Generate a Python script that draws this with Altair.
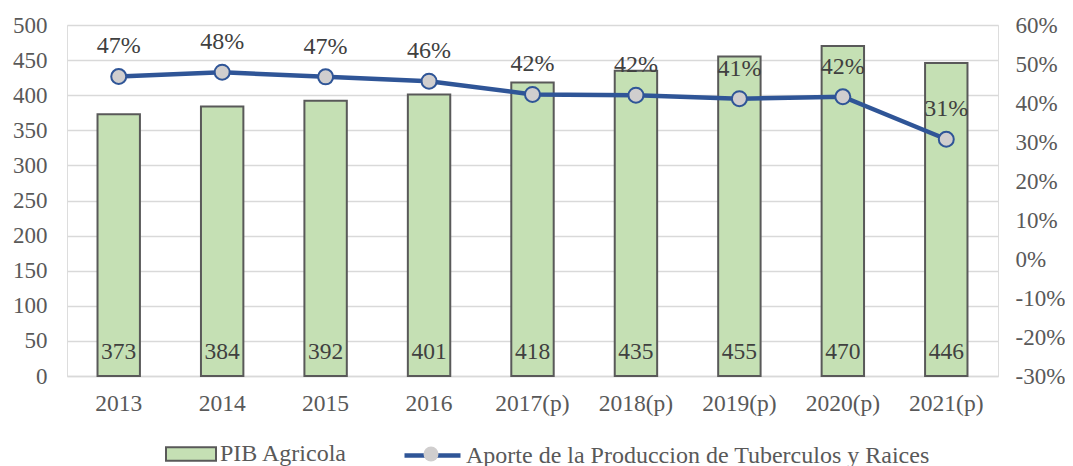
import altair as alt
import pandas as pd

years = ["2013", "2014", "2015", "2016", "2017(p)", "2018(p)", "2019(p)", "2020(p)", "2021(p)"]
pib = [373, 384, 392, 401, 418, 435, 455, 470, 446]
aporte = [0.468, 0.479, 0.467, 0.456, 0.422, 0.420, 0.411, 0.416, 0.307]
bar_name = "PIB Agricola"
line_name = "Aporte de la Produccion de Tuberculos y Raices"
left_ticks = list(range(0, 501, 50))
right_ticks = [round(i * 0.1, 1) for i in range(-3, 7)]

df = pd.DataFrame({"year": years, "pib": pib, "aporte": aporte,
                   "zero": 0, "s1": bar_name, "s2": line_name, "s3": "m"})

FONT = "Liberation Serif"
TXT = "#595959"
LBL = "#404040"
BLUE = "#2F5597"
GREEN = "#C5E0B4"
GREY = "#D0CECE"

base = alt.Chart(df)

x = alt.X("year:N", sort=years, title=None,
          scale=alt.Scale(paddingInner=0.59, paddingOuter=0.295),
          axis=alt.Axis(labelAngle=0, labelFontSize=23.5, labelColor=TXT, labelFont=FONT,
                        labelPadding=15, ticks=False, domain=True,
                        domainColor="#D9D9D9", domainWidth=1.5, grid=False))

bar_axis = alt.Axis(values=left_ticks, labelFontSize=23, labelColor=TXT, labelFont=FONT,
                    labelPadding=20, ticks=False, domain=False, labelOverlap=False,
                    grid=True, gridColor="#D9D9D9", gridWidth=1.5)
bar_scale = alt.Scale(domain=[0, 500])

bars = base.mark_bar(stroke="#595959", strokeWidth=2).encode(
    x=x, y=alt.Y("pib:Q", title=None, scale=bar_scale, axis=bar_axis),
    fill=alt.Fill("s1:N", scale=alt.Scale(domain=[bar_name], range=[GREEN]),
                  legend=alt.Legend(title=None, orient="none", legendX=98, legendY=403,
                                    padding=0,
                                    symbolType="M-1,-0.27H1V0.27H-1Z", symbolSize=2500,
                                    symbolStrokeColor="#595959", symbolStrokeWidth=2,
                                    symbolOpacity=1, labelLimit=600,
                                    labelFontSize=24, labelColor=TXT, labelFont=FONT,
                                    labelOffset=3)))

bar_labels = base.mark_text(fontSize=23.5, font=FONT, color=LBL, baseline="middle", dy=-24).encode(
    x=x, y=alt.Y("zero:Q", title=None, scale=bar_scale, axis=bar_axis),
    text=alt.Text("pib:Q"))

bar_layer = alt.layer(bars, bar_labels)

line_axis = alt.Axis(orient="right", values=right_ticks,
                     labelExpr="replace(format(datum.value, '.0%'), '\u2212', '-')",
                     labelFontSize=23, labelColor=TXT, labelFont=FONT, labelOverlap=False,
                     labelPadding=17, ticks=False, domain=False, grid=False)
yline = alt.Y("aporte:Q", title=None, scale=alt.Scale(domain=[-0.3, 0.6]), axis=line_axis)

line = base.mark_line(strokeWidth=4.5).encode(
    x=x, y=yline,
    stroke=alt.Stroke("s2:N", scale=alt.Scale(domain=[line_name], range=[BLUE]),
                      legend=alt.Legend(title=None, orient="none", legendX=335, legendY=400,
                                        padding=0, labelLimit=800,
                                        symbolType="stroke", symbolSize=3136,
                                        symbolStrokeWidth=4.5,
                                        labelFontSize=24, labelColor=TXT, labelFont=FONT,
                                        labelOffset=3)))

points = base.mark_point(size=225, fill=GREY, stroke=BLUE, strokeWidth=2,
                         filled=True, opacity=1, fillOpacity=1, strokeOpacity=1).encode(
    x=x, y=yline,
    shape=alt.Shape("s3:N", scale=alt.Scale(domain=["m"], range=["circle"]),
                    legend=alt.Legend(title=None, orient="none", legendX=355.5, legendY=420.5,
                                      padding=0, symbolSize=225,
                                      symbolFillColor=GREY, symbolStrokeColor=BLUE,
                                      symbolStrokeWidth=2, symbolOpacity=1,
                                      labelExpr="''", labelFontSize=1)))

pct_labels = base.mark_text(fontSize=24, font=FONT, color=LBL, baseline="middle", dy=-30).encode(
    x=x, y=yline, text=alt.Text("aporte:Q", format=".0%"))

line_layer = alt.layer(line, points, pct_labels)

chart = alt.layer(bar_layer, line_layer).resolve_scale(y="independent").properties(
    width=931, height=351,
    autosize=alt.AutoSizeParams(type="none"),
    padding={"left": 59, "top": 17, "right": 67, "bottom": 90},
).configure_view(stroke=None).configure(font=FONT)

chart.save("out.html", embed_options={"renderer": "svg", "actions": False})
